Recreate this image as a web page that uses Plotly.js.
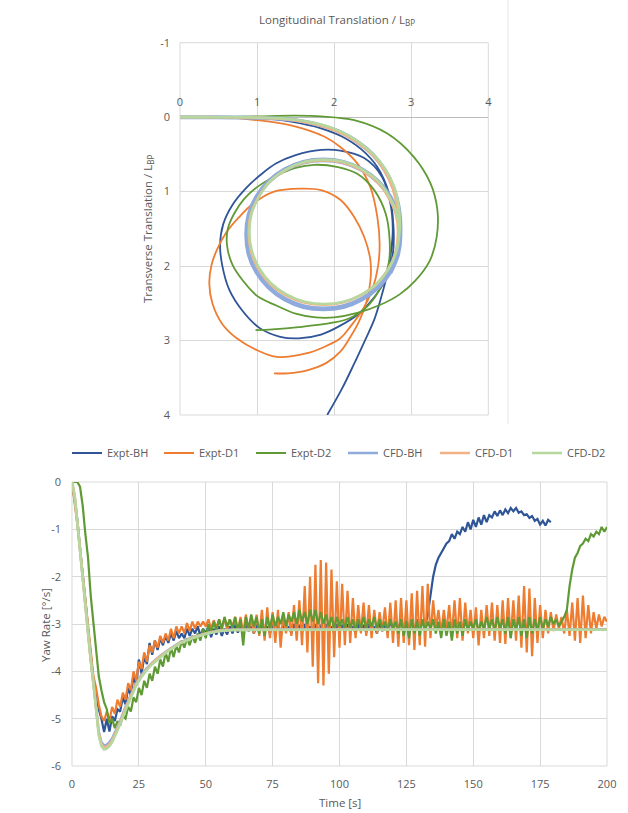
<!DOCTYPE html>
<html>
<head>
<meta charset="utf-8">
<script src="https://cdn.plot.ly/plotly-3.0.1.min.js"></script>
<style>html,body{margin:0;padding:0;background:#fff;}#chart{width:628px;height:813px;}</style>
</head>
<body>
<div id="chart"></div>
<script>
// ---------------- Series names & colours ----------------
const seriesNames = ['Expt-BH', 'Expt-D1', 'Expt-D2', 'CFD-BH', 'CFD-D1', 'CFD-D2'];
const seriesColors = ['#2F5597', '#ED7D31', '#5F9A35', '#8FAADC', '#F4B183', '#B6D89E'];

// ---------------- Trajectory (Longitudinal / Transverse translation, L_BP) ----------------
const exptBH_x = [0,0.5,1.0,1.44,1.83,2.1,2.35,2.56,2.71,2.77,2.76,2.68,2.52,2.32,2.08,1.83,1.54,1.3,1.03,0.81,0.64,0.55,0.52,0.56,0.68,0.86,1.05,1.25,1.5,1.83,2.08,2.39,2.62,2.73,2.76,2.74,2.69,2.61,2.52,2.39,2.26,2.1,1.91];
const exptBH_y = [0,0,0.01,0.06,0.15,0.26,0.43,0.67,1.02,1.47,1.85,2.15,2.42,2.64,2.8,2.92,2.97,2.95,2.83,2.6,2.32,2.0,1.72,1.44,1.18,0.95,0.77,0.62,0.51,0.44,0.45,0.55,0.80,1.16,1.5,1.79,2.10,2.42,2.72,3.02,3.31,3.65,4.0];

const exptD1_x = [0,0.5,1.0,1.44,1.87,2.08,2.3,2.47,2.56,2.59,2.57,2.5,2.38,2.22,2.08,1.84,1.65,1.26,1.0,0.75,0.55,0.42,0.38,0.41,0.48,0.6,0.76,0.95,1.22,1.57,1.83,2.08,2.26,2.39,2.47,2.47,2.42,2.32,2.2,2.08,1.9,1.65,1.4,1.22];
const exptD1_y = [0,0,0.04,0.11,0.26,0.40,0.62,0.94,1.34,1.70,2.0,2.3,2.57,2.8,2.97,3.1,3.17,3.22,3.13,2.98,2.78,2.5,2.23,1.98,1.78,1.55,1.35,1.16,1.0,0.96,0.98,1.11,1.34,1.61,1.92,2.2,2.48,2.75,2.97,3.15,3.3,3.40,3.44,3.44];

const exptD2_x = [0,0.5,1.0,1.5,1.83,2.26,2.69,3.03,3.25,3.34,3.33,3.24,3.05,2.85,2.6,2.3,2.0,1.76,1.5,1.25,1.0,0.82,0.68,0.61,0.62,0.7,0.83,1.0,1.26,1.5,1.74,2.05,2.3,2.52,2.67,2.72,2.71,2.62,2.45,2.2,1.98,1.54,1.2,0.98];
const exptD2_y = [0,0,-0.01,-0.02,-0.01,0.04,0.22,0.53,0.89,1.25,1.61,1.93,2.2,2.38,2.52,2.63,2.69,2.69,2.64,2.53,2.4,2.2,1.98,1.72,1.5,1.3,1.1,0.94,0.78,0.68,0.64,0.67,0.76,0.98,1.3,1.65,1.95,2.25,2.52,2.7,2.76,2.82,2.85,2.86];

const cfdBH_x = [0,0.4,0.8,1.2,1.5,1.83,2.08,2.3,2.5,2.65,2.77,2.84,2.86,
  2.83,2.73,2.57,2.36,2.12,1.86,1.60,1.36,1.15,0.99,0.89,0.86,0.89,0.99,1.15,1.36,1.60,1.86,2.12,2.36,2.57,2.73,2.83,2.86,
  2.83,2.73,2.57,2.36,2.12,1.86,1.60,1.36,1.15,0.99,0.89,0.86,0.89,0.99,1.15,1.36,1.60,1.86,2.12,2.36,2.57,2.73,2.83,2.86,2.83,2.73];
const cfdBH_y = [0,0,0.003,0.015,0.04,0.11,0.2,0.33,0.5,0.7,0.95,1.22,1.52,
  1.82,2.07,2.28,2.44,2.54,2.57,2.54,2.44,2.28,2.07,1.83,1.57,1.31,1.07,0.86,0.70,0.60,0.57,0.60,0.70,0.86,1.07,1.31,1.57,
  1.83,2.08,2.29,2.45,2.55,2.58,2.55,2.45,2.29,2.08,1.84,1.58,1.32,1.08,0.87,0.71,0.61,0.58,0.61,0.71,0.87,1.08,1.32,1.58,1.84,2.09];

const cfdD1_x = [0,0.4,0.8,1.2,1.5,1.83,2.08,2.3,2.5,2.65,2.76,2.82,2.83,
  2.80,2.70,2.55,2.35,2.11,1.86,1.61,1.37,1.17,1.02,0.92,0.89,0.92,1.02,1.17,1.37,1.61,1.86,2.11,2.35,2.55,2.70,2.80,2.83,2.80,2.70,2.55];
const cfdD1_y = [0,0,0.003,0.015,0.045,0.115,0.21,0.34,0.51,0.71,0.96,1.23,1.52,
  1.80,2.04,2.24,2.39,2.49,2.52,2.49,2.39,2.24,2.04,1.80,1.55,1.30,1.07,0.86,0.71,0.61,0.58,0.61,0.71,0.86,1.07,1.30,1.55,1.80,2.04,2.24];

const cfdD2_x = [0,0.4,0.8,1.2,1.5,1.83,2.08,2.3,2.5,2.66,2.78,2.84,2.85,
  2.81,2.71,2.56,2.36,2.12,1.87,1.62,1.38,1.18,1.03,0.93,0.90,0.93,1.03,1.18,1.38,1.62,1.87,2.12,2.36,2.56,2.71,2.81,2.84,2.81,2.71,2.56];
const cfdD2_y = [0,0,0.002,0.012,0.035,0.1,0.19,0.32,0.49,0.69,0.94,1.22,1.5,
  1.79,2.03,2.23,2.38,2.48,2.51,2.48,2.38,2.23,2.03,1.79,1.54,1.29,1.06,0.85,0.70,0.60,0.57,0.60,0.70,0.85,1.06,1.29,1.54,1.79,2.03,2.23];

// ---------------- Yaw rate (deg/s) vs time (s) ----------------
const timeExpt = [0,1,2,3,4,5,6,7,8,9,10,11,12,13,14,15,16,17,18,19,20,21,22,23,24,25,26,27,28,29,30,31,32,33,34,35,36,37,38,39,
  40,41,42,43,44,45,46,47,48,49,50,51,52,53,54,55,56,57,58,59,60,61,62,63,64,65,66,67,68,69,70,71,72,73,74,75,76,77,78,79,
  80,81,82,83,84,85,86,87,88,89,90,91,92,93,94,95,96,97,98,99,100,101,102,103,104,105,106,107,108,109,110,111,112,113,114,115,116,117,118,119,
  120,121,122,123,124,125,126,127,128,129,130,131,132,133,134,135,136,137,138,139,140,141,142,143,144,145,146,147,148,149,150,151,152,153,154,155,156,157,158,159,
  160,161,162,163,164,165,166,167,168,169,170,171,172,173,174,175,176,177,178,179,180,181,182,183,184,185,186,187,188,189,190,191,192,193,194,195,196,197,198,199,200];

const yawExptBH = [
  0,-0.4,-0.8,-1.4,-1.9,-2.5,-3.1,-3.7,-4.2,-4.5,
  -4.8,-5.0,-5.28,-5.0,-5.27,-4.95,-5.05,-4.8,-4.85,-4.55,
  -4.7,-4.35,-4.5,-4.1,-4.3,-3.75,-4.05,-3.7,-3.85,-3.4,
  -3.65,-3.35,-3.55,-3.3,-3.45,-3.25,-3.4,-3.2,-3.35,-3.15,
  -3.3,-3.2,-3.3,-3.1,-3.25,-3.1,-3.2,-3.05,-3.25,-3.1,
  -3.2,-3.05,-3.28,-3.1,-3.22,-3.05,-3.25,-3.1,-3.22,-3.05,
  -3.2,-3.02,-3.18,-3.05,-3.2,-3.0,-3.15,-3.05,-3.2,-3.02,
  -3.18,-3.0,-3.15,-3.05,-3.2,-3.0,-3.15,-3.02,-3.18,-3.0,
  -3.15,-3.05,-3.2,-3.0,-3.12,-3.02,-3.18,-3.0,-3.15,-3.05,
  -3.2,-3.0,-3.15,-3.02,-3.18,-3.0,-3.12,-3.05,-3.2,-3.0,
  -3.15,-3.02,-3.18,-3.0,-3.12,-3.05,-3.2,-3.0,-3.15,-3.02,
  -3.18,-3.0,-3.12,-3.05,-3.2,-2.98,-3.15,-3.0,-3.12,-2.95,
  -3.15,-2.95,-3.1,-2.9,-3.12,-2.92,-3.1,-2.95,-3.15,-2.9,
  -3.1,-2.95,-3.05,-2.8,-2.4,-2.0,-1.75,-1.6,-1.5,-1.4,
  -1.3,-1.25,-1.1,-1.2,-1.05,-1.1,-0.95,-1.05,-0.85,-1.0,
  -0.8,-0.95,-0.75,-0.9,-0.7,-0.85,-0.7,-0.75,-0.62,-0.72,
  -0.6,-0.7,-0.58,-0.66,-0.55,-0.62,-0.55,-0.65,-0.62,-0.7,
  -0.68,-0.76,-0.72,-0.82,-0.78,-0.9,-0.82,-0.92,-0.8,-0.85];

const yawExptD1 = [
  0,-0.4,-0.9,-1.4,-1.95,-2.5,-3.1,-3.7,-4.1,-4.35,
  -4.7,-4.95,-5.05,-4.85,-5.05,-4.75,-4.9,-4.6,-4.75,-4.45,
  -4.6,-4.25,-4.4,-4.0,-4.2,-3.8,-3.95,-3.6,-3.8,-3.45,
  -3.6,-3.35,-3.5,-3.25,-3.4,-3.2,-3.35,-3.1,-3.3,-3.05,
  -3.2,-3.05,-3.2,-2.98,-3.15,-2.95,-3.1,-2.95,-3.05,-2.95,
  -3.05,-2.9,-3.1,-2.92,-3.08,-2.9,-3.1,-2.88,-3.12,-2.9,
  -3.05,-2.85,-3.15,-2.85,-3.2,-2.8,-3.15,-2.9,-3.2,-2.8,
  -3.25,-2.7,-3.35,-2.65,-3.3,-2.75,-3.4,-2.7,-3.5,-2.8,
  -3.2,-2.75,-3.25,-2.6,-3.35,-2.5,-3.45,-2.2,-3.6,-2.0,
  -3.9,-1.75,-4.25,-1.65,-4.3,-1.7,-4.05,-1.85,-3.7,-2.1,
  -3.5,-2.15,-3.45,-2.3,-3.4,-2.45,-3.3,-2.6,-3.2,-2.55,
  -3.25,-2.6,-3.3,-2.7,-3.2,-2.75,-3.15,-2.65,-3.3,-2.55,
  -3.4,-2.5,-3.48,-2.45,-3.4,-2.5,-3.45,-2.35,-3.55,-2.3,
  -3.45,-2.2,-3.48,-2.15,-3.3,-2.5,-3.1,-2.7,-3.2,-2.7,
  -3.15,-2.6,-3.25,-2.5,-3.3,-2.45,-3.35,-2.55,-3.2,-2.7,
  -3.3,-2.65,-3.45,-2.7,-3.3,-2.6,-3.25,-2.55,-3.35,-2.6,
  -3.4,-2.5,-3.42,-2.45,-3.3,-2.5,-3.35,-2.4,-3.5,-2.2,
  -3.6,-2.25,-3.68,-2.45,-3.4,-2.6,-3.3,-2.7,-3.2,-2.75,
  -3.15,-2.8,-3.1,-2.85,-3.2,-2.7,-3.25,-2.55,-3.35,-2.45,
  -3.4,-2.4,-3.3,-2.6,-3.2,-2.75,-3.1,-2.8,-3.05,-2.85,
  -2.95];

const yawExptD2 = [
  0,0,0,-0.1,-0.5,-1.1,-1.6,-2.4,-3.0,-3.5,
  -4.1,-4.4,-4.65,-4.8,-5.1,-5.0,-5.2,-5.05,-5.15,-4.95,
  -5.0,-4.75,-4.85,-4.55,-4.65,-4.35,-4.5,-4.2,-4.35,-4.05,
  -4.2,-3.9,-4.05,-3.75,-3.9,-3.6,-3.8,-3.5,-3.7,-3.45,
  -3.6,-3.35,-3.5,-3.3,-3.45,-3.25,-3.4,-3.2,-3.35,-3.1,
  -3.3,-3.0,-3.2,-2.95,-3.15,-2.9,-3.1,-2.85,-3.05,-2.9,
  -3.1,-2.85,-3.15,-2.9,-3.45,-2.85,-3.1,-2.8,-3.05,-2.85,
  -3.2,-2.9,-3.25,-2.85,-3.1,-2.8,-3.05,-2.85,-3.0,-2.75,
  -3.05,-2.8,-2.95,-2.75,-3.0,-2.7,-2.95,-2.75,-3.0,-2.7,
  -2.95,-2.7,-3.0,-2.75,-3.0,-2.8,-3.05,-2.85,-3.1,-2.85,
  -3.05,-2.9,-3.1,-2.85,-3.1,-2.9,-3.15,-2.9,-3.1,-2.85,
  -3.1,-2.9,-3.05,-2.85,-3.1,-2.9,-3.1,-2.95,-3.15,-2.9,
  -3.1,-2.95,-3.2,-2.9,-3.25,-2.95,-3.3,-2.9,-3.2,-2.95,
  -3.25,-2.9,-3.15,-2.95,-3.1,-2.9,-3.2,-2.95,-3.3,-2.9,
  -3.25,-2.95,-3.35,-2.9,-3.2,-2.95,-3.25,-2.9,-3.15,-2.95,
  -3.1,-2.9,-3.15,-2.95,-3.1,-2.85,-3.1,-2.9,-3.15,-2.85,
  -3.1,-2.9,-3.2,-2.85,-3.3,-2.9,-3.15,-2.85,-3.25,-2.9,
  -3.3,-2.85,-3.2,-2.9,-3.15,-2.85,-3.1,-2.9,-3.05,-2.85,
  -3.0,-2.9,-3.05,-2.95,-2.85,-2.7,-2.2,-1.85,-1.6,-1.5,
  -1.35,-1.3,-1.2,-1.25,-1.1,-1.15,-1.05,-1.1,-0.95,-1.05,
  -0.95];

const timeCFD = [0,1,2,3,4,5,6,7,8,9,10,11,12,13,14,15,16,18,20,22,24,26,28,30,33,36,40,45,50,55,60,80,100,125,150,175,200];
const yawCfdBH = [0,-0.3,-0.85,-1.45,-2.0,-2.6,-3.2,-3.75,-4.25,-4.8,-5.28,-5.5,-5.57,-5.55,-5.5,-5.42,-5.3,-5.05,-4.75,-4.48,-4.25,-4.07,-3.93,-3.82,-3.67,-3.55,-3.4,-3.28,-3.2,-3.14,-3.12,-3.11,-3.11,-3.11,-3.11,-3.11,-3.11];
const yawCfdD1 = [0,-0.3,-0.85,-1.45,-2.0,-2.6,-3.2,-3.75,-4.25,-4.82,-5.3,-5.54,-5.61,-5.59,-5.54,-5.46,-5.34,-5.08,-4.78,-4.51,-4.27,-4.1,-3.95,-3.83,-3.68,-3.56,-3.41,-3.29,-3.2,-3.14,-3.12,-3.12,-3.12,-3.12,-3.12,-3.12,-3.12];
const yawCfdD2 = [0,-0.3,-0.85,-1.45,-2.0,-2.6,-3.2,-3.75,-4.25,-4.85,-5.35,-5.58,-5.65,-5.63,-5.58,-5.5,-5.38,-5.12,-4.82,-4.55,-4.3,-4.12,-3.97,-3.85,-3.7,-3.57,-3.42,-3.3,-3.21,-3.15,-3.13,-3.12,-3.12,-3.12,-3.12,-3.12,-3.12];

// ---------------- Tick labels ----------------
const trajXTicks = [0,1,2,3,4];
const trajXTickText = ['0','1','2','3','4'];
const trajYTicks = [-1,0,1,2,3,4];
const trajYTickText = ['-1','0','1','2','3','4'];
const yawXTicks = [0,25,50,75,100,125,150,175,200];
const yawXTickText = ['0','25','50','75','100','125','150','175','200'];
const yawYTicks = [0,-1,-2,-3,-4,-5,-6];
const yawYTickText = ['0','-1','-2','-3','-4','-5','-6'];

// ---------------- Traces ----------------
const trajX = [exptBH_x, exptD1_x, exptD2_x, cfdBH_x, cfdD1_x, cfdD2_x];
const trajY = [exptBH_y, exptD1_y, exptD2_y, cfdBH_y, cfdD1_y, cfdD2_y];
const trajW = [1.8, 1.8, 1.8, 4, 2.6, 2.6];
const yawT = [timeExpt.slice(0, yawExptBH.length), timeExpt, timeExpt, timeCFD, timeCFD, timeCFD];
const yawV = [yawExptBH, yawExptD1, yawExptD2, yawCfdBH, yawCfdD1, yawCfdD2];
const yawW = [2.2, 2.2, 2.2, 2.6, 2.6, 2.6];

const traces = [];
for (let i = 0; i < seriesNames.length; i++) {
  traces.push({
    x: trajX[i], y: trajY[i], xaxis: 'x', yaxis: 'y', type: 'scatter', mode: 'lines',
    name: seriesNames[i], showlegend: false, hoverinfo: 'skip',
    line: {color: seriesColors[i], width: trajW[i], shape: 'spline', smoothing: 1}
  });
}
for (let i = 0; i < seriesNames.length; i++) {
  traces.push({
    x: yawT[i], y: yawV[i], xaxis: 'x2', yaxis: 'y2', type: 'scatter', mode: 'lines',
    name: seriesNames[i], showlegend: true, hoverinfo: 'skip',
    line: {color: seriesColors[i], width: yawW[i]}
  });
}

const W = 628, H = 813;
const px = v => v / W;
const py = v => 1 - v / H;
const grid = '#d9d9d9';
const txt = '#595959';

const layout = {
  width: W, height: H,
  margin: {l: 0, r: 0, t: 0, b: 0},
  paper_bgcolor: '#ffffff', plot_bgcolor: '#ffffff',
  font: {family: 'Open Sans, Liberation Sans, sans-serif', size: 11, color: txt},
  showlegend: true,
  xaxis: {
    domain: [px(180), px(488.3)], range: [0, 4], anchor: 'free', position: py(117), side: 'top',
    tickvals: trajXTicks, ticktext: trajXTickText, showgrid: true, gridcolor: grid, gridwidth: 1,
    zeroline: false, showline: false, ticks: '', ticklabelstandoff: 9, fixedrange: true, automargin: false
  },
  yaxis: {
    domain: [py(415), py(42.7)], range: [4, -1], anchor: 'x',
    tickvals: trajYTicks, ticktext: trajYTickText, showgrid: true, gridcolor: grid, gridwidth: 1,
    zeroline: true, zerolinecolor: '#bcbcbc', zerolinewidth: 1.2, showline: false, ticks: '',
    ticklabelstandoff: 9, fixedrange: true, automargin: false
  },
  xaxis2: {
    domain: [px(72), px(607)], range: [0, 200], anchor: 'y2',
    tickvals: yawXTicks, ticktext: yawXTickText, showgrid: true, gridcolor: grid, gridwidth: 1,
    zeroline: false, showline: false, ticks: '', ticklabelstandoff: 10, fixedrange: true, automargin: false
  },
  yaxis2: {
    domain: [py(766), py(482)], range: [-6, 0], anchor: 'x2',
    tickvals: yawYTicks, ticktext: yawYTickText, showgrid: true, gridcolor: grid, gridwidth: 1,
    zeroline: false, showline: false, ticks: '', ticklabelstandoff: 10, fixedrange: true, automargin: false
  },
  legend: {
    orientation: 'h', x: px(67), y: py(453), xanchor: 'left', yanchor: 'middle',
    font: {size: 11, color: txt}, bgcolor: 'rgba(0,0,0,0)', borderwidth: 0,
    entrywidth: 47, entrywidthmode: 'pixels', itemwidth: 30, traceorder: 'normal'
  },
  shapes: [
    {type: 'rect', xref: 'x domain', yref: 'y domain', x0: 0, x1: 1, y0: 0, y1: 1,
     line: {color: grid, width: 1}, layer: 'below'},
    {type: 'rect', xref: 'x2 domain', yref: 'y2 domain', x0: 0, x1: 1, y0: 0, y1: 1,
     line: {color: grid, width: 1}, layer: 'below'},
    {type: 'line', xref: 'paper', yref: 'paper', x0: px(508), x1: px(508), y0: py(424), y1: 1,
     line: {color: '#e6e6e6', width: 1}}
  ],
  annotations: [
    {text: 'Longitudinal Translation / L<sub>BP</sub>', xref: 'paper', yref: 'paper',
     x: px(337), y: py(20), xanchor: 'center', yanchor: 'middle', showarrow: false,
     font: {size: 11.5, color: txt}},
    {text: 'Transverse Translation / L<sub>BP</sub>', xref: 'paper', yref: 'paper',
     x: px(148), y: py(229), xanchor: 'center', yanchor: 'middle', showarrow: false, textangle: -90,
     font: {size: 11.5, color: txt}},
    {text: 'Yaw Rate [°/s]', xref: 'paper', yref: 'paper',
     x: px(45), y: py(625), xanchor: 'center', yanchor: 'middle', showarrow: false, textangle: -90,
     font: {size: 11.5, color: txt}},
    {text: 'Time [s]', xref: 'paper', yref: 'paper',
     x: px(340), y: py(802), xanchor: 'center', yanchor: 'middle', showarrow: false,
     font: {size: 11.5, color: txt}}
  ]
};

Plotly.newPlot('chart', traces, layout, {displayModeBar: false, staticPlot: true});
</script>
</body>
</html>
